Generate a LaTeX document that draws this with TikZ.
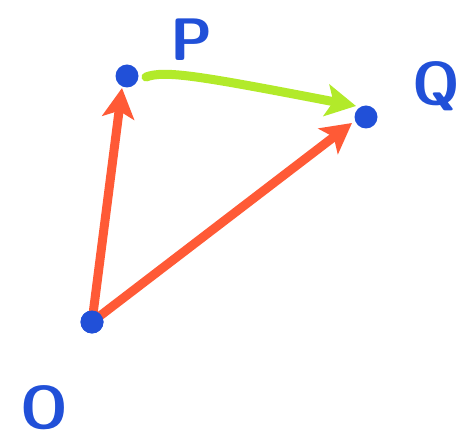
\documentclass[tikz,border=0pt]{standalone}
\usetikzlibrary{arrows.meta}
\definecolor{penred}{HTML}{FF5A36}
\definecolor{pengreen}{HTML}{B2EA2A}
\definecolor{penblue}{HTML}{2150D8}
\begin{document}
\begin{tikzpicture}[x=1pt,y=-1pt,
  dot/.style={circle,fill=penblue,inner sep=0pt,minimum size=23pt},
  lbl/.style={text=penblue,font=\sffamily\bfseries\fontsize{60}{60}\selectfont,inner sep=0pt},
  vec/.style={line width=9pt,line cap=round,-{Stealth[length=30pt,width=32pt,inset=7pt]}}]
\useasboundingbox (0,0) rectangle (461,446);
\node[dot] (P) at (127,76) {};
\node[dot] (Q) at (366,117) {};
\node[dot] (O) at (92,322) {};
\node[lbl] (lP) at (192,40) {P};
\node[lbl] (lQ) at (436,86) {Q};
\node[lbl] (lO) at (44,408) {O};
\coordinate (tP) at (122,88);
\coordinate (tQ) at (352,123);
\coordinate (gs) at (146,77);
\coordinate (gt) at (356,106);
\draw[vec,penred] (O.center) -- (tP);
\draw[vec,penred] (O.center) -- (tQ);
\draw[vec,pengreen] (gs) .. controls (165,70) and (200,76) .. (gt);
\node[dot] at (O) {};
\end{tikzpicture}
\end{document}
